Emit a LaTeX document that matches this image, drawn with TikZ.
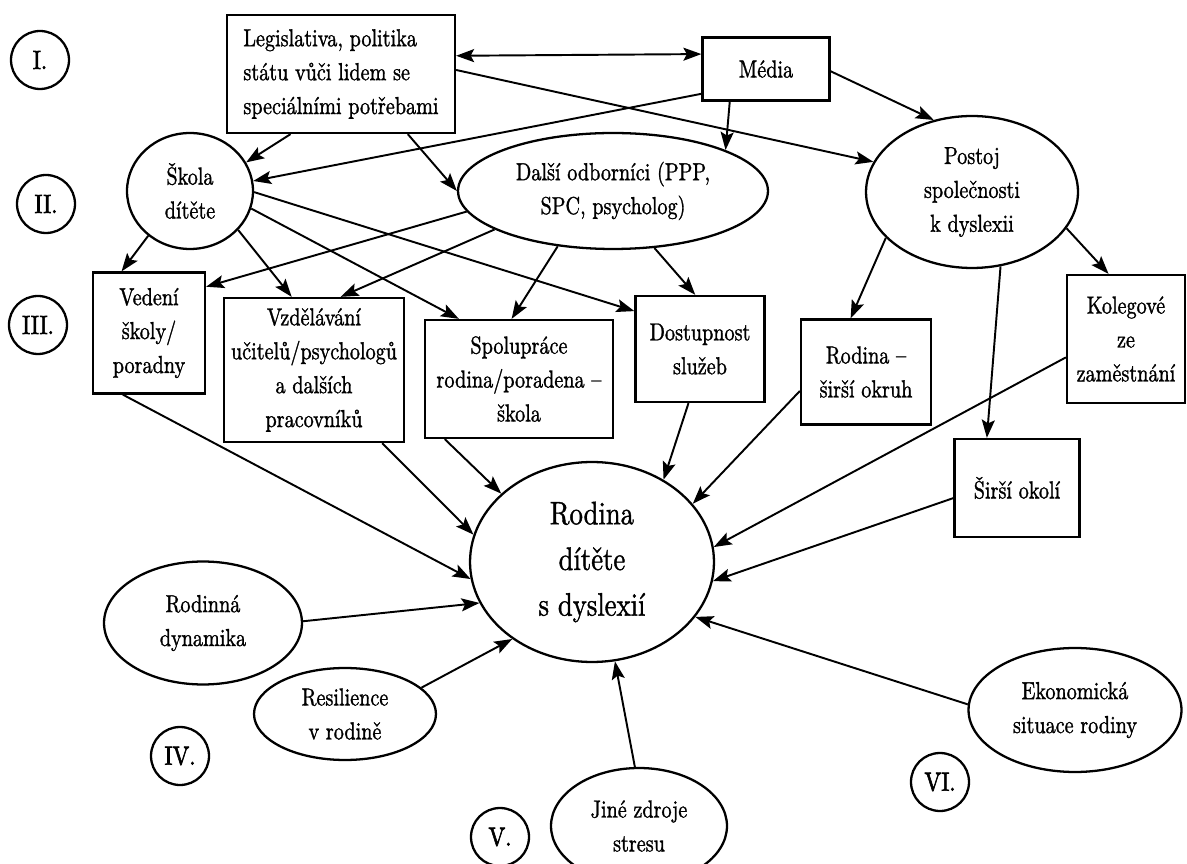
\documentclass[tikz,border=0pt]{standalone}
\usepackage{fontspec}
\setmainfont{lmroman10-regular.otf}[FakeStretch=0.82, FakeBold=1.2]
\newfontfamily\numfam{lmroman10-regular.otf}[FakeStretch=0.85, FakeBold=2.2]
\usetikzlibrary{shapes.geometric,arrows.meta}
\newcommand{\txtfnt}{\fontsize{14}{19.3}\selectfont}
\newcommand{\bigfnt}{\fontsize{18.5}{26}\selectfont}
\newcommand{\numfnt}{\numfam\fontsize{15}{18}\selectfont}
\tikzset{
  box/.style={draw, line width=1.3pt, align=center, inner sep=0pt, font=\txtfnt},
  ell/.style={draw, ellipse, line width=1.3pt, align=center, inner sep=0pt, font=\txtfnt},
  num/.style={draw, circle, line width=1.3pt, minimum size=1.16cm, inner sep=0pt, font=\numfnt},
  arr/.style={line width=1.1pt, -{Stealth[length=3.6mm,width=2.6mm,inset=0.7mm]}},
  dbl/.style={line width=1.1pt, {Stealth[length=3.6mm,width=2.6mm,inset=0.7mm]}-{Stealth[length=3.6mm,width=2.6mm,inset=0.7mm]}}
}
\begin{document}
\begin{tikzpicture}[x=0.02cm, y=-0.02cm]
\useasboundingbox (0,0) rectangle (1187,864);
% level numerals
\node[num] (n1) at (40,60) {I.};
\node[num] (n2) at (46,204) {II.};
\node[num] (n3) at (38,325) {III.};
\node[num] (n4) at (180,756) {IV.};
\node[num] (n5) at (500,837) {V.};
\node[num] (n6) at (940,782) {VI.};
% level I
\node[box, align=left, minimum width=4.56cm, minimum height=2.36cm] (legis) at (341,74) {Legislativa, politika\\státu vůči lidem se\\speciálními potřebami};
\node[box, minimum width=2.54cm, minimum height=1.26cm] (media) at (766,69) {Média};
% level II
\node[ell, minimum width=2.52cm, minimum height=2.32cm] (skola) at (190,191) {Škola\\dítěte};
\node[ell, minimum width=6.2cm, minimum height=2.32cm] (dalsi) at (613,191) {Další odborníci (PPP,\\SPC, psycholog)};
\node[ell, minimum width=4.24cm, minimum height=3.04cm] (postoj) at (972,192) {Postoj\\společnosti\\k dyslexii};
% level III
\node[box, minimum width=2.24cm, minimum height=2.42cm] (vedeni) at (149,333) {Vedení\\školy/\\poradny};
\node[box, minimum width=3.6cm, minimum height=2.88cm] (vzdel) at (314,370) {Vzdělávání\\učitelů/psychologů\\a dalších\\pracovníků};
\node[box, minimum width=3.76cm, minimum height=2.36cm] (spolu) at (519,379) {Spolupráce\\rodina/poradena –\\škola};
\node[box, minimum width=2.58cm, minimum height=2.12cm] (dostup) at (700,349) {Dostupnost\\služeb};
\node[box, minimum width=2.6cm, minimum height=2.1cm] (rodsir) at (866,372) {Rodina –\\širší okruh};
\node[box, minimum width=2.36cm, minimum height=2.56cm] (koleg) at (1126,339) {Kolegové\\ze\\zaměstnání};
\node[box, minimum width=2.5cm, minimum height=1.96cm] (sirsi) at (1017,488) {Širší okolí};
% centre
\node[ell, font=\bigfnt, minimum width=4.88cm, minimum height=4cm] (rodina) at (592,562) {Rodina\\dítěte\\s dyslexií};
% levels IV-VI
\node[ell, minimum width=3.96cm, minimum height=2.46cm] (dynam) at (203,623) {Rodinná\\dynamika};
\node[ell, minimum width=3.64cm, minimum height=1.84cm] (resil) at (345,714) {Resilience\\v rodině};
\node[ell, minimum width=3.52cm, minimum height=2.32cm] (jine) at (639,826) {Jiné zdroje\\stresu};
\node[ell, minimum width=4.26cm, minimum height=2.48cm] (ekon) at (1075,710) {Ekonomická\\situace rodiny};
% connectors
\draw[dbl] (legis.9.5) -- (media.167.5);
\draw[arr] (legis.2) -- (postoj.163.4);
\draw[arr] (media.-159.1) -- (skola.9.9);
\draw[arr] (media.-138) -- (dalsi.20.6);
\draw[arr] (media.-2.6) -- (postoj.118.4);
\draw[arr] (legis.-130.3) -- (skola.27);
\draw[arr] (legis.-42.2) -- (dalsi.180);
\draw[arr] (dalsi.-172.5) -- (vedeni.39.6);
\draw[arr] (dalsi.-162.8) -- (vzdel.70.9);
\draw[arr] (skola.-133.6) -- (vedeni.114.2);
\draw[arr] (skola.-39.9) -- (vzdel.107.7);
\draw[arr] (skola.-16.8) -- (spolu.135.5);
\draw[arr] (skola.-1) -- (dostup.150.6);
\draw[arr] (dalsi.-135.5) -- (spolu.97.7);
\draw[arr] (dalsi.-54) -- (dostup.95.4);
\draw[arr] (postoj.-152.4) -- (rodsir.106);
\draw[arr] (postoj.-69.1) -- (sirsi.121.5);
\draw[arr] (postoj.-21.6) -- (koleg.105.1);
\draw[arr] (vedeni.-113.9) -- (rodina.188.3);
\draw[arr] (vzdel.-47.9) -- (rodina.167.2);
\draw[arr] (spolu.-141) -- (rodina.143);
\draw[arr] (dostup.-102.8) -- (rodina.49.4);
\draw[arr] (rodsir.-164.5) -- (rodina.30.2);
\draw[arr] (koleg.-163) -- (rodina.7.7);
\draw[arr] (sirsi.-171.9) -- (rodina.-9.5);
\draw[arr] (dynam.1.2) -- (rodina.-160.2);
\draw[arr] (resil.19.1) -- (rodina.-136);
\draw[arr] (jine.94.9) -- (rodina.-77.2);
\draw[arr] (ekon.177.3) -- (rodina.-28.5);
\end{tikzpicture}
\end{document}
